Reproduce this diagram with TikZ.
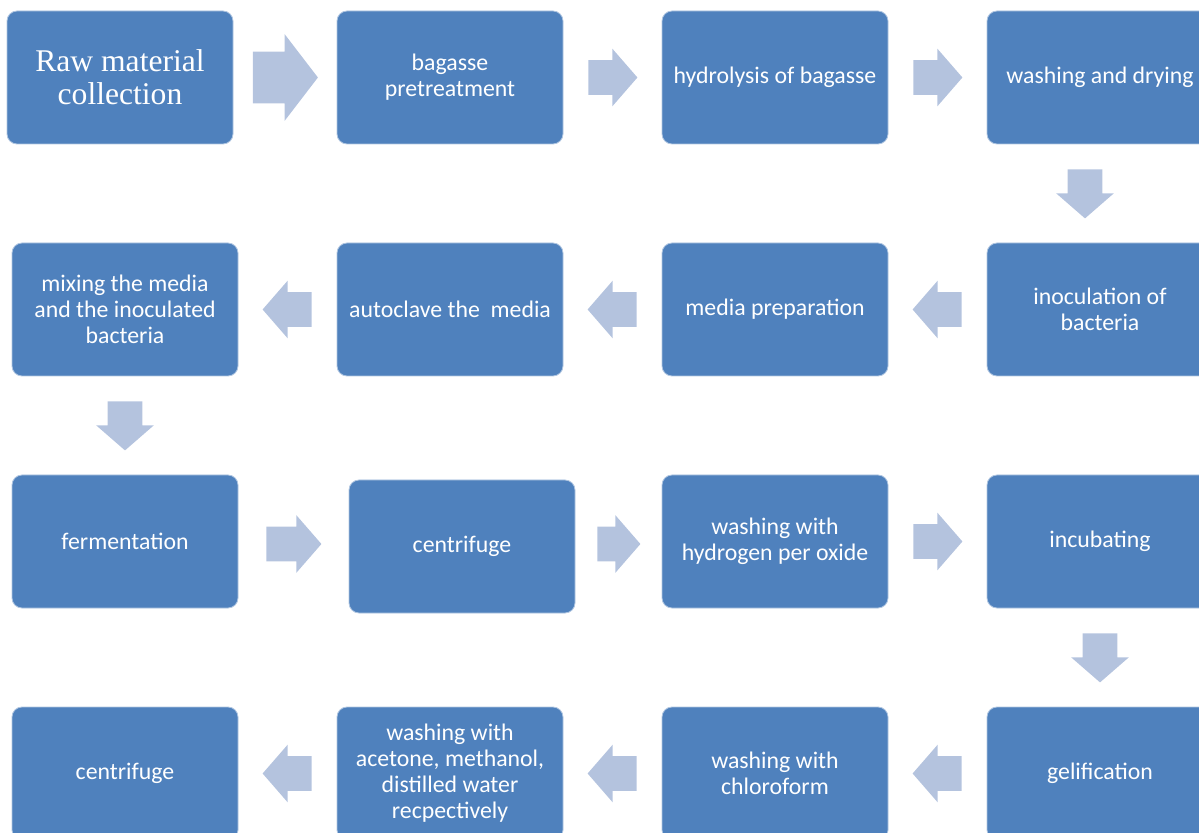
\documentclass[tikz,border=0pt]{standalone}
\usepackage{fontspec}
\setmainfont{Carlito}
\newfontfamily\serifbox{Liberation Serif}
\usetikzlibrary{calc,positioning,shapes.arrows}
\definecolor{boxblue}{HTML}{4F81BD}
\definecolor{arrowblue}{HTML}{B4C3DE}
\tikzset{
    stepbox/.style={
        draw=white!55!boxblue,line width=.4pt,rounded corners=5pt,
        fill=boxblue,text=white,
        minimum width=113pt,minimum height=66.5pt,
        align=center,inner sep=2pt,
        font=\fontsize{11.9}{13}\selectfont
    },
    flow arrow/.style={single arrow,draw=none,fill=arrowblue,
        anchor=tail,minimum height=#1,
        single arrow head extend=5.75pt,single arrow tip angle=98
    },
    flow arrow/.default=24.5pt,
    go right/.style={flow arrow=#1,inner xsep=0pt,inner ysep=8.5pt,xshift=-.5*#1},
    go right/.default=24.5pt,
    go left/.style={flow arrow=#1,inner xsep=0pt,inner ysep=8.5pt,
        shape border rotate=180,xshift=.5*#1},
    go left/.default=24.5pt,
    go down/.style={flow arrow=#1,inner xsep=8.5pt,inner ysep=0pt,
        shape border rotate=270,yshift=.5*#1},
    go down/.default=24.5pt,
}
\begin{document}
\begin{tikzpicture}[x=.5pt,y=-.5pt]
		\clip (0,0) rectangle (1199,833);
		\useasboundingbox (0,0) rectangle (1199,833);
		% row 1
		\node[stepbox,font=\serifbox\fontsize{15.8}{16.5}\selectfont] (raw) at (120,77.5) {Raw material\\collection};
		\node[stepbox] (pretreat) at (450,77.5) {bagasse\\pretreatment};
		\node[stepbox] (hydro) at (775,77.5) {hydrolysis of bagasse};
		\node[stepbox] (dry) at (1100,77.5) {washing and drying};
		% row 2
		\node[stepbox] (inoc) at (1100,309.5) {inoculation of\\bacteria};
		\node[stepbox] (media) at (775,309.5) {media preparation};
		\node[stepbox] (autoclave) at (450,309.5) {autoclave the~ media};
		\node[stepbox] (mix) at (125,309.5) {mixing the media\\and the inoculated\\bacteria};
		% row 3
		\node[stepbox] (ferment) at (125,541.5) {fermentation};
		\node[stepbox] (centri) at (462,546.5) {centrifuge};
		\node[stepbox] (peroxide) at (775,541.5) {washing with\\hydrogen per oxide};
		\node[stepbox] (incub) at (1100,541.5) {incubating};
		% row 4
		\node[stepbox] (gel) at (1100,773.5) {gelification};
		\node[stepbox] (chloro) at (775,773.5) {washing with\\chloroform};
		\node[stepbox] (acetone) at (450,773.5) {washing with\\acetone, methanol,\\distilled water\\recpectively};
		\node[stepbox] (centrib) at (125,773.5) {centrifuge};

		% block arrows between the steps
		\node[go right=32.5pt,inner ysep=12.75pt,
		      single arrow head extend=8.75pt,single arrow tip angle=105]
		      (a1) at ($(raw)!.5!(pretreat)$) {};
		\node[go right] (a2) at ($(pretreat)!.5!(hydro)$) {};
		\node[go right] (a3) at ($(hydro)!.5!(dry)$) {};
		\node[go down,xshift=-7.5pt] (a4) at ($(dry)!.5!(inoc)$) {};
		\foreach \from/\to in {inoc/media,media/autoclave,autoclave/mix,gel/chloro,chloro/acetone,acetone/centrib}
		\node[go left] at ($(\from)!.5!(\to)$) {};
		\node[go down] (a5) at ($(mix)!.5!(ferment)$) {};
		\node[go right=27.5pt] (a6) at ($(ferment)!.5!(centri)$) {};
		\node[go right=21.5pt] (a7) at ($(centri)!.5!(peroxide)$) {};
		\node[go right] (a8) at ($(peroxide)!.5!(incub)$) {};
		\node[go down] (a9) at ($(incub)!.5!(gel)$) {};
	\end{tikzpicture}
\end{document}
